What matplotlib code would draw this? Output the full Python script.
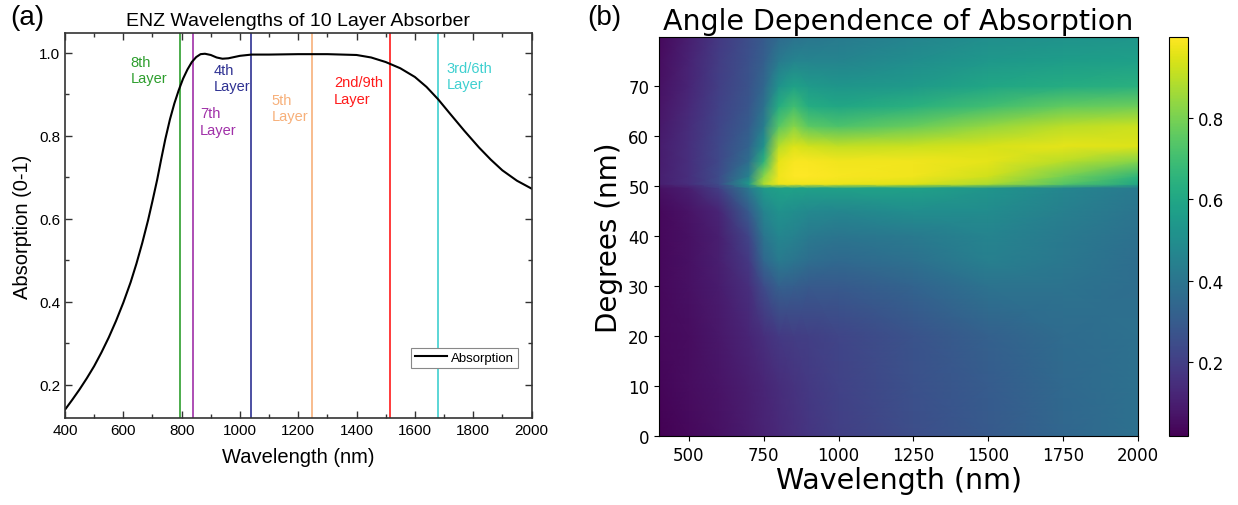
import numpy as np
import matplotlib
matplotlib.use("Agg")
import matplotlib.pyplot as plt

# ---- panel (a): absorption spectrum of the 10 layer absorber ----
wl_a = [400, 425, 450, 475, 500, 525, 550, 575, 600, 625, 645, 665, 685, 700,
        716, 730, 744, 760, 775, 790, 805, 820, 835, 850, 865, 880, 900, 920,
        940, 960, 980, 1000, 1040, 1100, 1200, 1300, 1400, 1450, 1500, 1550,
        1600, 1640, 1680, 1720, 1770, 1820, 1860, 1900, 1950, 2000]
absorption = [0.14, 0.164, 0.189, 0.216, 0.245, 0.278, 0.314, 0.354, 0.398,
              0.447, 0.492, 0.542, 0.597, 0.643, 0.694, 0.744, 0.792, 0.84,
              0.878, 0.91, 0.938, 0.96, 0.978, 0.99, 0.997, 0.998, 0.995,
              0.989, 0.986, 0.987, 0.99, 0.993, 0.996, 0.996, 0.997, 0.997,
              0.995, 0.989, 0.978, 0.963, 0.942, 0.918, 0.888, 0.854, 0.812,
              0.772, 0.743, 0.717, 0.692, 0.673]

# ENZ wavelengths of the layers
layer_wl = [796, 839, 1039, 1248, 1515, 1681]
layer_names = ["8th\nLayer", "7th\nLayer", "4th\nLayer", "5th\nLayer",
               "2nd/9th\nLayer", "3rd/6th\nLayer"]
layer_colors = ["#2e9e2e", "#a030a8", "#2e3192", "#f7b07a", "#ff1a1a", "#3fd0d0"]
label_x = [625, 863, 910, 1108, 1322, 1710]
label_y = [0.995, 0.871, 0.975, 0.903, 0.946, 0.981]

# ---- panel (b): absorption vs wavelength and angle ----
wl_b = [400, 500, 600, 700, 750, 800, 850, 900, 1000, 1250, 1500, 1750, 2000]
angles = [0, 10, 20, 30, 35, 40, 45, 49.6, 50.4, 52, 55, 58, 62, 66, 70, 75, 80]
abs_0 = [0.02, 0.04, 0.06, 0.09, 0.11, 0.13, 0.15, 0.17, 0.20, 0.25, 0.29, 0.34, 0.38]
abs_10 = [0.03, 0.05, 0.07, 0.10, 0.12, 0.14, 0.16, 0.18, 0.21, 0.26, 0.30, 0.35, 0.38]
abs_20 = [0.04, 0.05, 0.08, 0.12, 0.15, 0.18, 0.19, 0.20, 0.22, 0.27, 0.32, 0.36, 0.38]
abs_30 = [0.04, 0.06, 0.09, 0.15, 0.24, 0.32, 0.31, 0.29, 0.29, 0.33, 0.39, 0.39, 0.37]
abs_35 = [0.04, 0.06, 0.10, 0.18, 0.34, 0.42, 0.40, 0.37, 0.35, 0.38, 0.44, 0.41, 0.37]
abs_40 = [0.04, 0.06, 0.10, 0.22, 0.40, 0.47, 0.45, 0.42, 0.40, 0.42, 0.46, 0.42, 0.38]
abs_45 = [0.04, 0.07, 0.12, 0.30, 0.46, 0.52, 0.50, 0.48, 0.47, 0.50, 0.49, 0.44, 0.40]
abs_49 = [0.06, 0.10, 0.20, 0.42, 0.55, 0.58, 0.58, 0.57, 0.58, 0.58, 0.53, 0.47, 0.42]
abs_50 = [0.10, 0.15, 0.24, 0.55, 0.88, 0.97, 0.98, 0.98, 0.97, 0.95, 0.88, 0.74, 0.60]
abs_52 = [0.10, 0.15, 0.24, 0.45, 0.82, 0.98, 1.00, 1.00, 0.99, 0.98, 0.93, 0.80, 0.66]
abs_55 = [0.09, 0.15, 0.23, 0.37, 0.65, 0.96, 0.99, 0.99, 0.98, 0.98, 0.96, 0.90, 0.82]
abs_58 = [0.09, 0.15, 0.23, 0.33, 0.52, 0.89, 0.95, 0.93, 0.91, 0.92, 0.94, 0.96, 0.95]
abs_62 = [0.08, 0.14, 0.22, 0.30, 0.43, 0.74, 0.82, 0.75, 0.72, 0.77, 0.84, 0.90, 0.92]
abs_66 = [0.07, 0.13, 0.21, 0.28, 0.38, 0.62, 0.70, 0.62, 0.60, 0.64, 0.70, 0.76, 0.78]
abs_70 = [0.06, 0.12, 0.20, 0.27, 0.34, 0.52, 0.58, 0.55, 0.53, 0.55, 0.60, 0.62, 0.64]
abs_75 = [0.05, 0.11, 0.19, 0.26, 0.31, 0.42, 0.46, 0.46, 0.46, 0.50, 0.54, 0.56, 0.57]
abs_80 = [0.04, 0.10, 0.18, 0.25, 0.29, 0.35, 0.38, 0.40, 0.42, 0.46, 0.50, 0.52, 0.53]

Z = np.array([abs_0, abs_10, abs_20, abs_30, abs_35, abs_40, abs_45, abs_49,
              abs_50, abs_52, abs_55, abs_58, abs_62, abs_66, abs_70, abs_75, abs_80])

fig = plt.figure(figsize=(12.38, 5.06), dpi=100)

# ---------------- (a) ----------------
arial = "Liberation Sans"
ax1 = fig.add_axes([65 / 1238, 1 - 419 / 506, 466.5 / 1238, 385 / 506])
for w, c in zip(layer_wl, layer_colors):
    ax1.axvline(w, color=c, lw=1.2)
ax1.plot(wl_a, absorption, color="black", lw=1.5, label="Absorption")
for x, y, s, c in zip(label_x, label_y, layer_names, layer_colors):
    ax1.text(x, y, s, color=c, fontsize=10.5, family=arial, va="top", ha="left",
             linespacing=1.2)

ax1.set_xlim(400, 2000)
ax1.set_ylim(0.12, 1.048)
ax1.set_xticks(np.arange(400, 2001, 200))
ax1.set_xticks(np.arange(500, 2000, 200), minor=True)
ax1.set_yticks([0.2, 0.4, 0.6, 0.8, 1.0])
ax1.set_yticks([0.3, 0.5, 0.7, 0.9], minor=True)
ax1.tick_params(which="both", direction="in", top=True, right=True,
                labelsize=11, width=1.0, color="#333333")
ax1.tick_params(which="major", length=5)
ax1.tick_params(which="minor", length=3)
for lab in ax1.get_xticklabels() + ax1.get_yticklabels():
    lab.set_family(arial)
for sp in ax1.spines.values():
    sp.set_color("#333333")
    sp.set_linewidth(1.2)
ax1.set_xlabel("Wavelength (nm)", fontsize=14.5, family=arial, labelpad=7)
ax1.set_ylabel("Absorption (0-1)", fontsize=14.5, family=arial, labelpad=5)
ax1.set_title("ENZ Wavelengths of 10 Layer Absorber", fontsize=14,
              family=arial, pad=6)
leg = ax1.legend(loc="upper left", bbox_to_anchor=(0.742, 0.183),
                 borderaxespad=0, fancybox=False, edgecolor="#888888",
                 framealpha=1, prop={"family": arial, "size": 9.5},
                 handlelength=2.4, borderpad=0.3, handletextpad=0.3)
leg.get_frame().set_linewidth(0.8)
fig.text(0.008, 1 - 5 / 506, "(a)", fontsize=20, family=arial, va="top")

# ---------------- (b) ----------------
ax2 = fig.add_axes([659 / 1238, 1 - 437 / 506, 479 / 1238, 399 / 506])
mesh = ax2.pcolormesh(wl_b, angles, Z, cmap="viridis", shading="gouraud",
                      vmin=0.017, vmax=1.0)
ax2.set_xlim(400, 2000)
ax2.set_ylim(0, 79.8)
ax2.set_xticks([500, 750, 1000, 1250, 1500, 1750, 2000])
ax2.set_yticks([0, 10, 20, 30, 40, 50, 60, 70])
ax2.tick_params(labelsize=12)
ax2.set_xlabel("Wavelength (nm)", fontsize=20.5, labelpad=2)
ax2.set_ylabel("Degrees (nm)", fontsize=20, labelpad=4)
ax2.set_title("Angle Dependence of Absorption", fontsize=20.5, pad=6)
fig.text(0.474, 1 - 5 / 506, "(b)", fontsize=20, family=arial, va="top")

cax = fig.add_axes([1169 / 1238, 1 - 437 / 506, 18.7 / 1238, 399 / 506])
cb = fig.colorbar(mesh, cax=cax)
cb.set_ticks([0.2, 0.4, 0.6, 0.8])
cb.ax.tick_params(labelsize=12)

fig.savefig("out.png", dpi=100)
